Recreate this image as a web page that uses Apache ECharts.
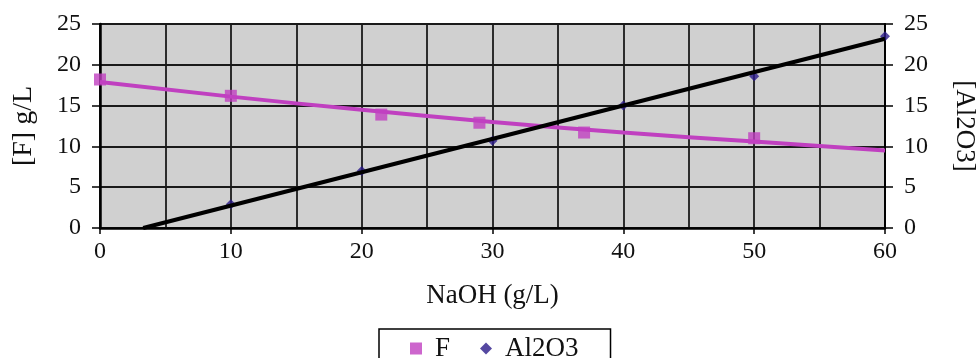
<!DOCTYPE html>
<html><head><meta charset="utf-8">
<script src="https://cdn.jsdelivr.net/npm/echarts@6/dist/echarts.min.js"></script>
<style>html,body{margin:0;padding:0;background:#fff}#c{width:977px;height:358px}</style>
</head><body><div id="c"></div>
<script>
// Data
var fX = [0, 10, 21.5, 29, 37, 50];
var fY = [18.2, 16.2, 13.9, 12.9, 11.7, 11.0];
var alX = [10, 20, 30, 40, 50, 60];
var alY = [2.9, 7.0, 10.7, 15.0, 18.6, 23.5];
// Trendlines
var fTrendX = [0, 10, 20, 30, 40, 50, 60];
var fTrendY = [17.9, 16.1, 14.5, 13.0, 11.7, 10.6, 9.5];
var alTrendX = [3.3, 60];
var alTrendY = [0, 23.2];

function pairs(xs, ys){ return xs.map(function(x,i){return [x, ys[i]];}); }

var font = 'Liberation Serif';
var chart = echarts.init(document.getElementById('c'), null, {renderer:'canvas'});
chart.setOption({
  animation:false,
  textStyle:{fontFamily:font},
  grid:{left:100, right:92, top:24, bottom:130, containLabel:false, outerBoundsMode:'none',
    show:true, backgroundColor:'#d0d0d0', borderColor:'#000', borderWidth:1.5},
  xAxis:{type:'value', min:0, max:60, interval:10,
    name:'NaOH (g/L)', nameLocation:'middle', nameGap:54,
    nameTextStyle:{fontFamily:font, fontSize:27, color:'#111'},
    axisLine:{lineStyle:{color:'#000', width:2.5}},
    axisTick:{show:true, length:6, lineStyle:{color:'#000', width:1.5}},
    axisLabel:{fontFamily:font, fontSize:24, color:'#111', margin:12},
    splitLine:{show:true, lineStyle:{color:'#1a1a1a', width:1.8}},
    minorTick:{show:false, splitNumber:2},
    minorSplitLine:{show:true, lineStyle:{color:'#1a1a1a', width:1.8}}
  },
  yAxis:[
    {type:'value', min:0, max:25, interval:5, position:'left',
      name:'[F] g/L', nameLocation:'middle', nameGap:62, nameRotate:90,
      nameTextStyle:{fontFamily:font, fontSize:28, color:'#111'},
      axisLine:{show:true, lineStyle:{color:'#000', width:2.5}},
      axisTick:{show:true, length:8, lineStyle:{color:'#000', width:1.5}},
      axisLabel:{fontFamily:font, fontSize:24, color:'#111', margin:19},
      splitLine:{show:true, lineStyle:{color:'#1a1a1a', width:1.8}}},
    {type:'value', min:0, max:25, interval:5, position:'right',
      name:'[Al2O3]', nameLocation:'middle', nameGap:66, nameRotate:-90,
      nameTextStyle:{fontFamily:font, fontSize:27, color:'#111'},
      axisLine:{show:true, lineStyle:{color:'#000', width:2}},
      axisTick:{show:true, length:8, lineStyle:{color:'#000', width:1.5}},
      axisLabel:{fontFamily:font, fontSize:24, color:'#111', margin:19},
      splitLine:{show:false}}
  ],
  legend:{data:[{name:'F', icon:'rect'},{name:'Al2O3', icon:'diamond'}],
    left:379, top:329, itemWidth:12, itemHeight:12, itemGap:30,
    padding:[6,32,20,31], borderColor:'#000', borderWidth:1.5, backgroundColor:'#fff',
    textStyle:{fontFamily:font, fontSize:27, color:'#111', padding:[0,0,0,8]}},
  series:[
    {name:'F trend', type:'line', smooth:true, showSymbol:false, data:pairs(fTrendX,fTrendY),
      lineStyle:{color:'#c040c0', width:4}, z:2, silent:true},
    {name:'Al2O3 trend', type:'line', yAxisIndex:1, showSymbol:false, data:pairs(alTrendX,alTrendY),
      lineStyle:{color:'#000', width:4}, z:4, silent:true},
    {name:'F', type:'scatter', symbol:'rect', symbolSize:12, data:pairs(fX,fY),
      itemStyle:{color:'#c040c0'}, z:3},
    {name:'Al2O3', type:'scatter', yAxisIndex:1, symbol:'diamond', symbolSize:10, data:pairs(alX,alY),
      itemStyle:{color:'#2a1a8a'}, z:3}
  ]
});
</script></body></html>
